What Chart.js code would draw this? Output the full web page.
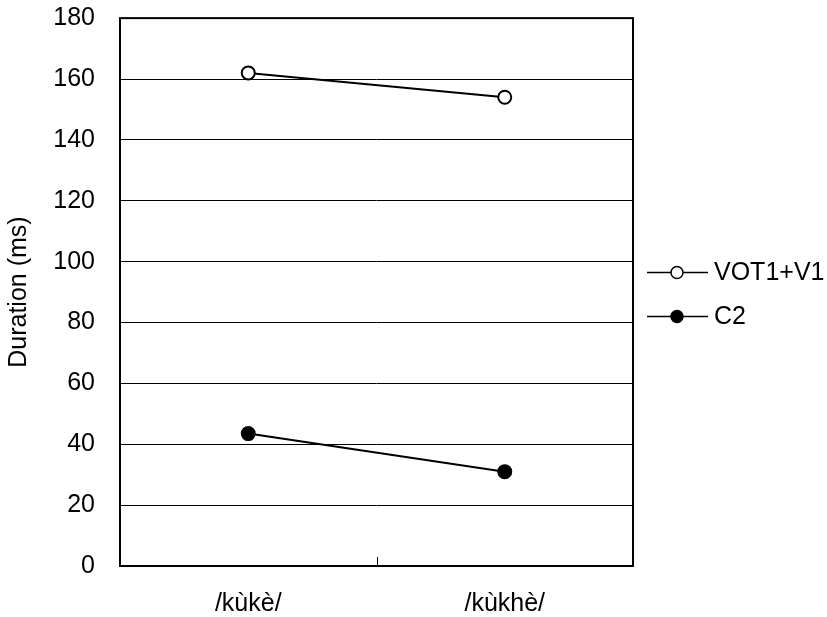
<!DOCTYPE html>
<html>
<head>
<meta charset="utf-8">
<script src="https://cdn.jsdelivr.net/npm/chart.js@4"></script>
<style>
  html, body { margin: 0; padding: 0; background: #fff; }
  #wrap { width: 827px; height: 617px; }
</style>
</head>
<body>
<div id="wrap"><canvas id="chart"></canvas></div>
<script>
// data
const categories = ['/kùkè/', '/kùkhè/'];
const votV1 = [162, 154];
const c2 = [43.5, 31];
const yTicks = [0, 20, 40, 60, 80, 100, 120, 140, 160, 180];
const seriesNames = ['VOT1+V1', 'C2'];

const FONT = 'Liberation Sans, Arial, sans-serif';

// frame, middle tick and the legend on the right
const framePlugin = {
    id: 'frame',
    afterDatasetsDraw(chart) {
        const { ctx, chartArea: a, scales } = chart;
        ctx.save();
        ctx.strokeStyle = '#000';
        ctx.lineWidth = 2;
        ctx.strokeRect(a.left, a.top, a.right - a.left, a.bottom - a.top);
        // small inward tick between the two categories
        const mx = Math.round(scales.x.getPixelForValue(0.5)) + 0.5;
        ctx.lineWidth = 1;
        ctx.beginPath();
        ctx.moveTo(mx, a.bottom);
        ctx.lineTo(mx, a.bottom - 9);
        ctx.stroke();

        // legend
        const lx = a.right + 14;
        const rows = [scales.y.getPixelForValue(96.6), scales.y.getPixelForValue(82)];
        chart.data.datasets.forEach((ds, i) => {
            const y = Math.round(rows[i]) + 0.5;
            ctx.strokeStyle = '#000';
            ctx.lineWidth = 1.5;
            ctx.beginPath();
            ctx.moveTo(lx, y);
            ctx.lineTo(lx + 61, y);
            ctx.stroke();
            ctx.beginPath();
            ctx.arc(lx + 30, y, 6, 0, Math.PI * 2);
            ctx.fillStyle = ds.pointBackgroundColor;
            ctx.fill();
            ctx.lineWidth = 1.5;
            ctx.stroke();
            ctx.fillStyle = '#000';
            ctx.font = '25px ' + FONT;
            ctx.textBaseline = 'middle';
            ctx.textAlign = 'left';
            ctx.fillText(ds.label, lx + 67, y + 1);
        });
        ctx.restore();
    }
};

new Chart(document.getElementById('chart'), {
    type: 'line',
    data: {
        labels: categories,
        datasets: [{
            label: seriesNames[0],
            data: votV1,
            borderColor: '#000',
            borderWidth: 2,
            pointRadius: 6.5,
            pointBorderWidth: 2,
            pointBackgroundColor: '#fff',
            pointBorderColor: '#000',
            tension: 0
        }, {
            label: seriesNames[1],
            data: c2,
            borderColor: '#000',
            borderWidth: 2,
            pointRadius: 6.5,
            pointBorderWidth: 2,
            pointBackgroundColor: '#000',
            pointBorderColor: '#000',
            tension: 0
        }]
    },
    options: {
        responsive: true,
        maintainAspectRatio: false,
        animation: false,
        layout: { padding: { top: 0, right: 194, left: 4, bottom: 0 } },
        plugins: {
            legend: { display: false },
            tooltip: { enabled: false }
        },
        scales: {
            x: {
                offset: true,
                grid: { display: false },
                border: { display: false },
                afterFit(scale) {
                    scale.height = 51;
                },
                ticks: {
                    color: '#000',
                    padding: 15,
                    font: { family: FONT, size: 25 }
                }
            },
            y: {
                min: 0,
                max: 180,
                afterBuildTicks(scale) {
                    scale.ticks = yTicks.map(v => ({ value: v }));
                },
                afterFit(scale) {
                    scale.width = 116;
                },
                grid: {
                    color: '#000',
                    lineWidth: 1,
                    drawTicks: true,
                    tickLength: 7,
                    tickColor: 'rgba(0,0,0,0)'
                },
                border: { display: false },
                ticks: {
                    color: '#000',
                    padding: 18,
                    font: { family: FONT, size: 25, lineHeight: 0.01 }
                },
                title: {
                    display: true,
                    text: 'Duration (ms)',
                    color: '#000',
                    font: { family: FONT, size: 25 },
                    padding: { top: 0, bottom: 0 }
                }
            }
        }
    },
    plugins: [framePlugin]
});
</script>
</body>
</html>
